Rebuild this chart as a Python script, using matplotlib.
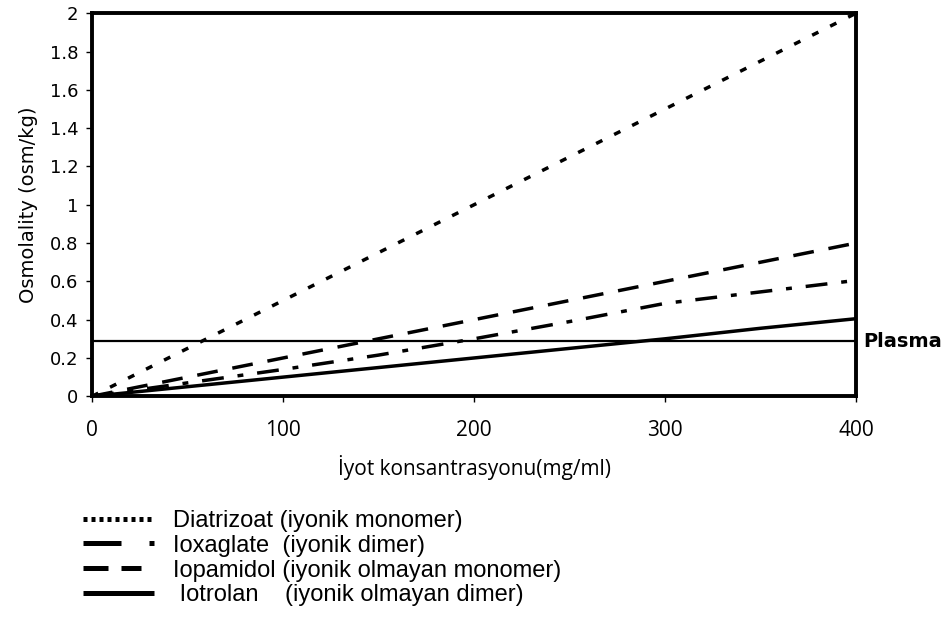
import numpy as np
import matplotlib.pyplot as plt
from matplotlib.transforms import blended_transform_factory

# iodine concentration (mg/ml) and osmolality (osm/kg)
conc = [0, 50, 100, 150, 200, 250, 300, 350, 400]
diatrizoat = [0, 0.25, 0.5, 0.75, 1.0, 1.25, 1.5, 1.75, 2.0]
ioxaglate = [0, 0.07, 0.14, 0.215, 0.30, 0.39, 0.485, 0.545, 0.605]
iopamidol = [0, 0.10, 0.20, 0.30, 0.40, 0.50, 0.60, 0.70, 0.80]
iotrolan = [0, 0.05, 0.10, 0.15, 0.20, 0.25, 0.30, 0.355, 0.405]
plasma = 0.287

labels = [
    "Diatrizoat (iyonik monomer)",
    "Ioxaglate  (iyonik dimer)",
    "Iopamidol (iyonik olmayan monomer)",
    " Iotrolan    (iyonik olmayan dimer)",
]
xticks = [0, 100, 200, 300, 400]
yticks = [0, 0.2, 0.4, 0.6, 0.8, 1.0, 1.2, 1.4, 1.6, 1.8, 2.0]

fig = plt.figure(figsize=(9.49, 6.31), dpi=100)
ax = fig.add_axes([0.097, 0.372, 0.805, 0.607])

lw = 2.5
l1, = ax.plot(conc, diatrizoat, color="black", lw=lw, dashes=(2.0, 3.8))
l2, = ax.plot(conc, ioxaglate, color="black", lw=lw, dashes=(6.3, 4, 1.7, 4))
l3, = ax.plot(conc, iopamidol, color="black", lw=lw, dashes=(6.0, 4.3))
l4, = ax.plot(conc, iotrolan, color="black", lw=lw, solid_capstyle="butt")

ax.axhline(plasma, color="black", lw=1.6)
trans = blended_transform_factory(ax.transAxes, ax.transData)
ax.text(1.009, plasma, "Plasma", transform=trans, ha="left", va="center",
        fontsize=14, fontweight="bold", family="DejaVu Sans")

ax.set_xlim(0, 400)
ax.set_ylim(0, 2)
ax.set_xticks(xticks)
ax.set_yticks(yticks)
ax.set_yticklabels([f"{v:g}" for v in yticks], fontsize=13, family="DejaVu Sans")
ax.set_xticklabels([str(v) for v in xticks], fontsize=15, family="Open Sans")
ax.tick_params(axis="both", direction="out", length=4, width=1)
ax.tick_params(axis="y", pad=6)
ax.tick_params(axis="x", pad=13)
for sp in ax.spines.values():
    sp.set_linewidth(2.8)

ax.set_ylabel("Osmolality (osm/kg)", fontsize=14, family="DejaVu Sans", labelpad=8)
ax.set_xlabel("İyot konsantrasyonu(mg/ml)", fontsize=15, family="Open Sans", labelpad=10)

leg = fig.legend([l1, l2, l3, l4], labels, loc="upper left",
                 bbox_to_anchor=(0.0875, 0.192), frameon=False,
                 prop={"family": "Liberation Sans", "size": 17},
                 handlelength=3.0, handletextpad=0.8, labelspacing=0.12,
                 borderpad=0, borderaxespad=0)
# legend keys are drawn thicker, with tighter patterns, than the plotted lines
key_dashes = [(0.8, 0.8), (7.6, 5.6, 1.0, 20), (5.0, 2.6, 4.0, 20), None]
for h, d in zip(leg.legend_handles, key_dashes):
    h.set_linewidth(3.6)
    if d is not None:
        h.set_dashes(d)

fig.savefig("out.png", dpi=100)
